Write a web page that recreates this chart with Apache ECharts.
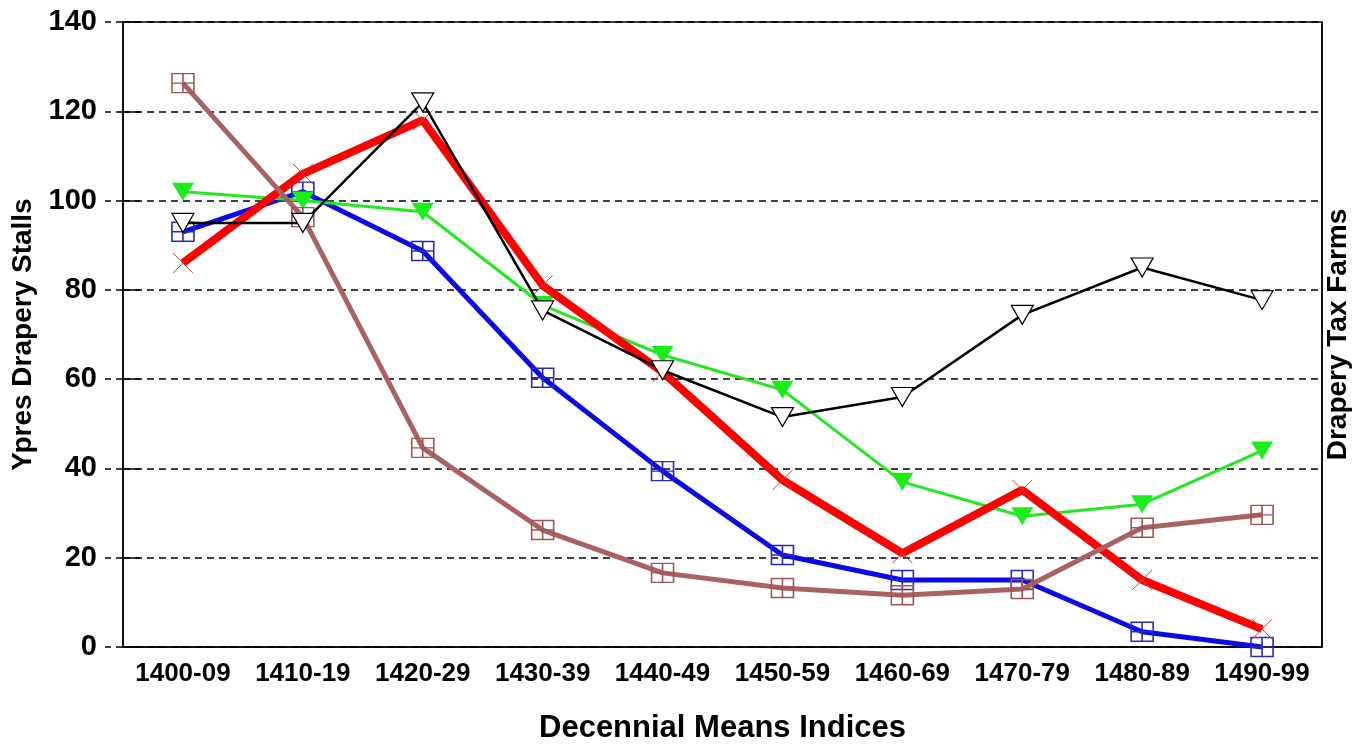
<!DOCTYPE html>
<html>
<head>
<meta charset="utf-8">
<script src="https://cdn.jsdelivr.net/npm/echarts@6/dist/echarts.min.js"></script>
<style>
html,body{margin:0;padding:0;background:#fff;}
#chart{width:1355px;height:744px;}
</style>
</head>
<body>
<div id="chart"></div>
<script>
const categories = ['1400-09','1410-19','1420-29','1430-39','1440-49','1450-59','1460-69','1470-79','1480-89','1490-99'];
const blueSquares = [93, 102, 88.7, 60.3, 39.4, 20.6, 15, 15, 3.4, 0];
const redCrosses = [86, 106, 118, 81, 61.6, 37.4, 21, 35.2, 15, 4];
const greenTriangles = [102, 100, 97.5, 76.6, 65.4, 57.6, 37, 29.3, 32, 44];
const blackTriangles = [95, 95, 122, 75.4, 62, 51.5, 56, 74.4, 85, 77.7];
const brownSquares = [126.3, 96.3, 44.6, 26.2, 16.6, 13.2, 11.6, 13, 26.7, 29.6];
const yTicks = [0, 20, 40, 60, 80, 100, 120, 140];

const FONT = '"Liberation Sans", Arial, sans-serif';
const squarePlus = 'path://M0,0H20V20H0Z M10,0V20 M0,10H20';
const crossMark = 'path://M0,0L20,20 M20,0L0,20';

const chart = echarts.init(document.getElementById('chart'));
chart.setOption({
  animation: false,
  backgroundColor: '#fff',
  grid: { left: 123, right: 33, top: 22, bottom: 97, containLabel: false, outerBoundsMode: 'none',
          show: true, borderColor: '#000', borderWidth: 1.5, backgroundColor: 'transparent' },
  xAxis: [{
    type: 'category', data: categories, boundaryGap: true,
    axisLine: { lineStyle: { color: '#000', width: 1.5 } },
    axisTick: { alignWithLabel: true, length: 13, lineStyle: { color: '#000', width: 1.5 } },
    axisLabel: { color: '#000', fontFamily: FONT, fontWeight: 'bold', fontSize: 26, margin: 14, interval: 0 },
    name: 'Decennial Means Indices', nameLocation: 'middle', nameGap: 66,
    nameTextStyle: { color: '#000', fontFamily: FONT, fontWeight: 'bold', fontSize: 31 }
  }, {
    type: 'category', data: categories, boundaryGap: true, position: 'bottom',
    axisLine: { show: false },
    axisTick: { alignWithLabel: true, inside: true, length: 10, lineStyle: { color: '#000', width: 1.5 } },
    axisLabel: { show: false }
  }],
  yAxis: [{
    type: 'value', min: yTicks[0], max: yTicks[yTicks.length - 1], interval: 20, position: 'left',
    axisLine: { show: true, lineStyle: { color: '#000', width: 1.5 } },
    axisTick: { show: true, length: 18, lineStyle: { color: '#000', width: 1.5, type: [7, 5] } },
    axisLabel: { color: '#000', fontFamily: FONT, fontWeight: 'bold', fontSize: 29, margin: 26 },
    splitLine: { show: true, lineStyle: { color: '#000', width: 1.5, type: [7, 5] } },
    name: 'Ypres Drapery Stalls', nameLocation: 'middle', nameGap: 79, nameRotate: 90,
    nameTextStyle: { color: '#000', fontFamily: FONT, fontWeight: 'bold', fontSize: 28 }
  }, {
    type: 'value', min: yTicks[0], max: yTicks[yTicks.length - 1], interval: 20, position: 'right',
    axisLine: { show: true, lineStyle: { color: '#000', width: 1.5 } },
    axisTick: { show: false }, axisLabel: { show: false }, splitLine: { show: false },
    name: 'Drapery Tax Farms', nameLocation: 'middle', nameGap: 2, nameRotate: 90,
    nameTextStyle: { color: '#000', fontFamily: FONT, fontWeight: 'bold', fontSize: 28 }
  }, {
    type: 'value', min: yTicks[0], max: yTicks[yTicks.length - 1], interval: 20, position: 'left',
    axisLine: { show: false },
    axisTick: { show: true, inside: true, length: 17, lineStyle: { color: '#000', width: 1.5 } },
    axisLabel: { show: false }, splitLine: { show: false }
  }],
  series: [{
    name: 'Blue', type: 'line', data: blueSquares, z: 3,
    lineStyle: { color: '#0a0ae6', width: 5 },
    symbol: squarePlus, symbolSize: [22, 19], showAllSymbol: true,
    itemStyle: { color: 'none', borderColor: '#2a2ab8', borderWidth: 1.5 }
  }, {
    name: 'Green', type: 'line', data: greenTriangles, z: 4,
    lineStyle: { color: '#22e822', width: 3 },
    symbol: 'triangle', symbolRotate: 180, symbolSize: [22, 18],
    itemStyle: { color: '#19ee19', borderColor: '#19ee19', borderWidth: 0 }
  }, {
    name: 'Red', type: 'line', data: redCrosses, z: 5,
    lineStyle: { color: '#ff0000', width: 8 },
    symbol: crossMark, symbolSize: [20, 20],
    itemStyle: { color: 'none', borderColor: '#c84040', borderWidth: 1 }
  }, {
    name: 'Brown', type: 'line', data: brownSquares, z: 6,
    lineStyle: { color: '#a86262', width: 5 },
    symbol: squarePlus, symbolSize: [22, 19],
    itemStyle: { color: 'none', borderColor: '#a05656', borderWidth: 1.5 }
  }, {
    name: 'Black', type: 'line', data: blackTriangles, z: 7,
    lineStyle: { color: '#000', width: 2.5 },
    symbol: 'triangle', symbolRotate: 180, symbolSize: [22, 19],
    itemStyle: { color: '#fff', borderColor: '#000', borderWidth: 1.2 }
  }]
});
</script>
</body>
</html>
